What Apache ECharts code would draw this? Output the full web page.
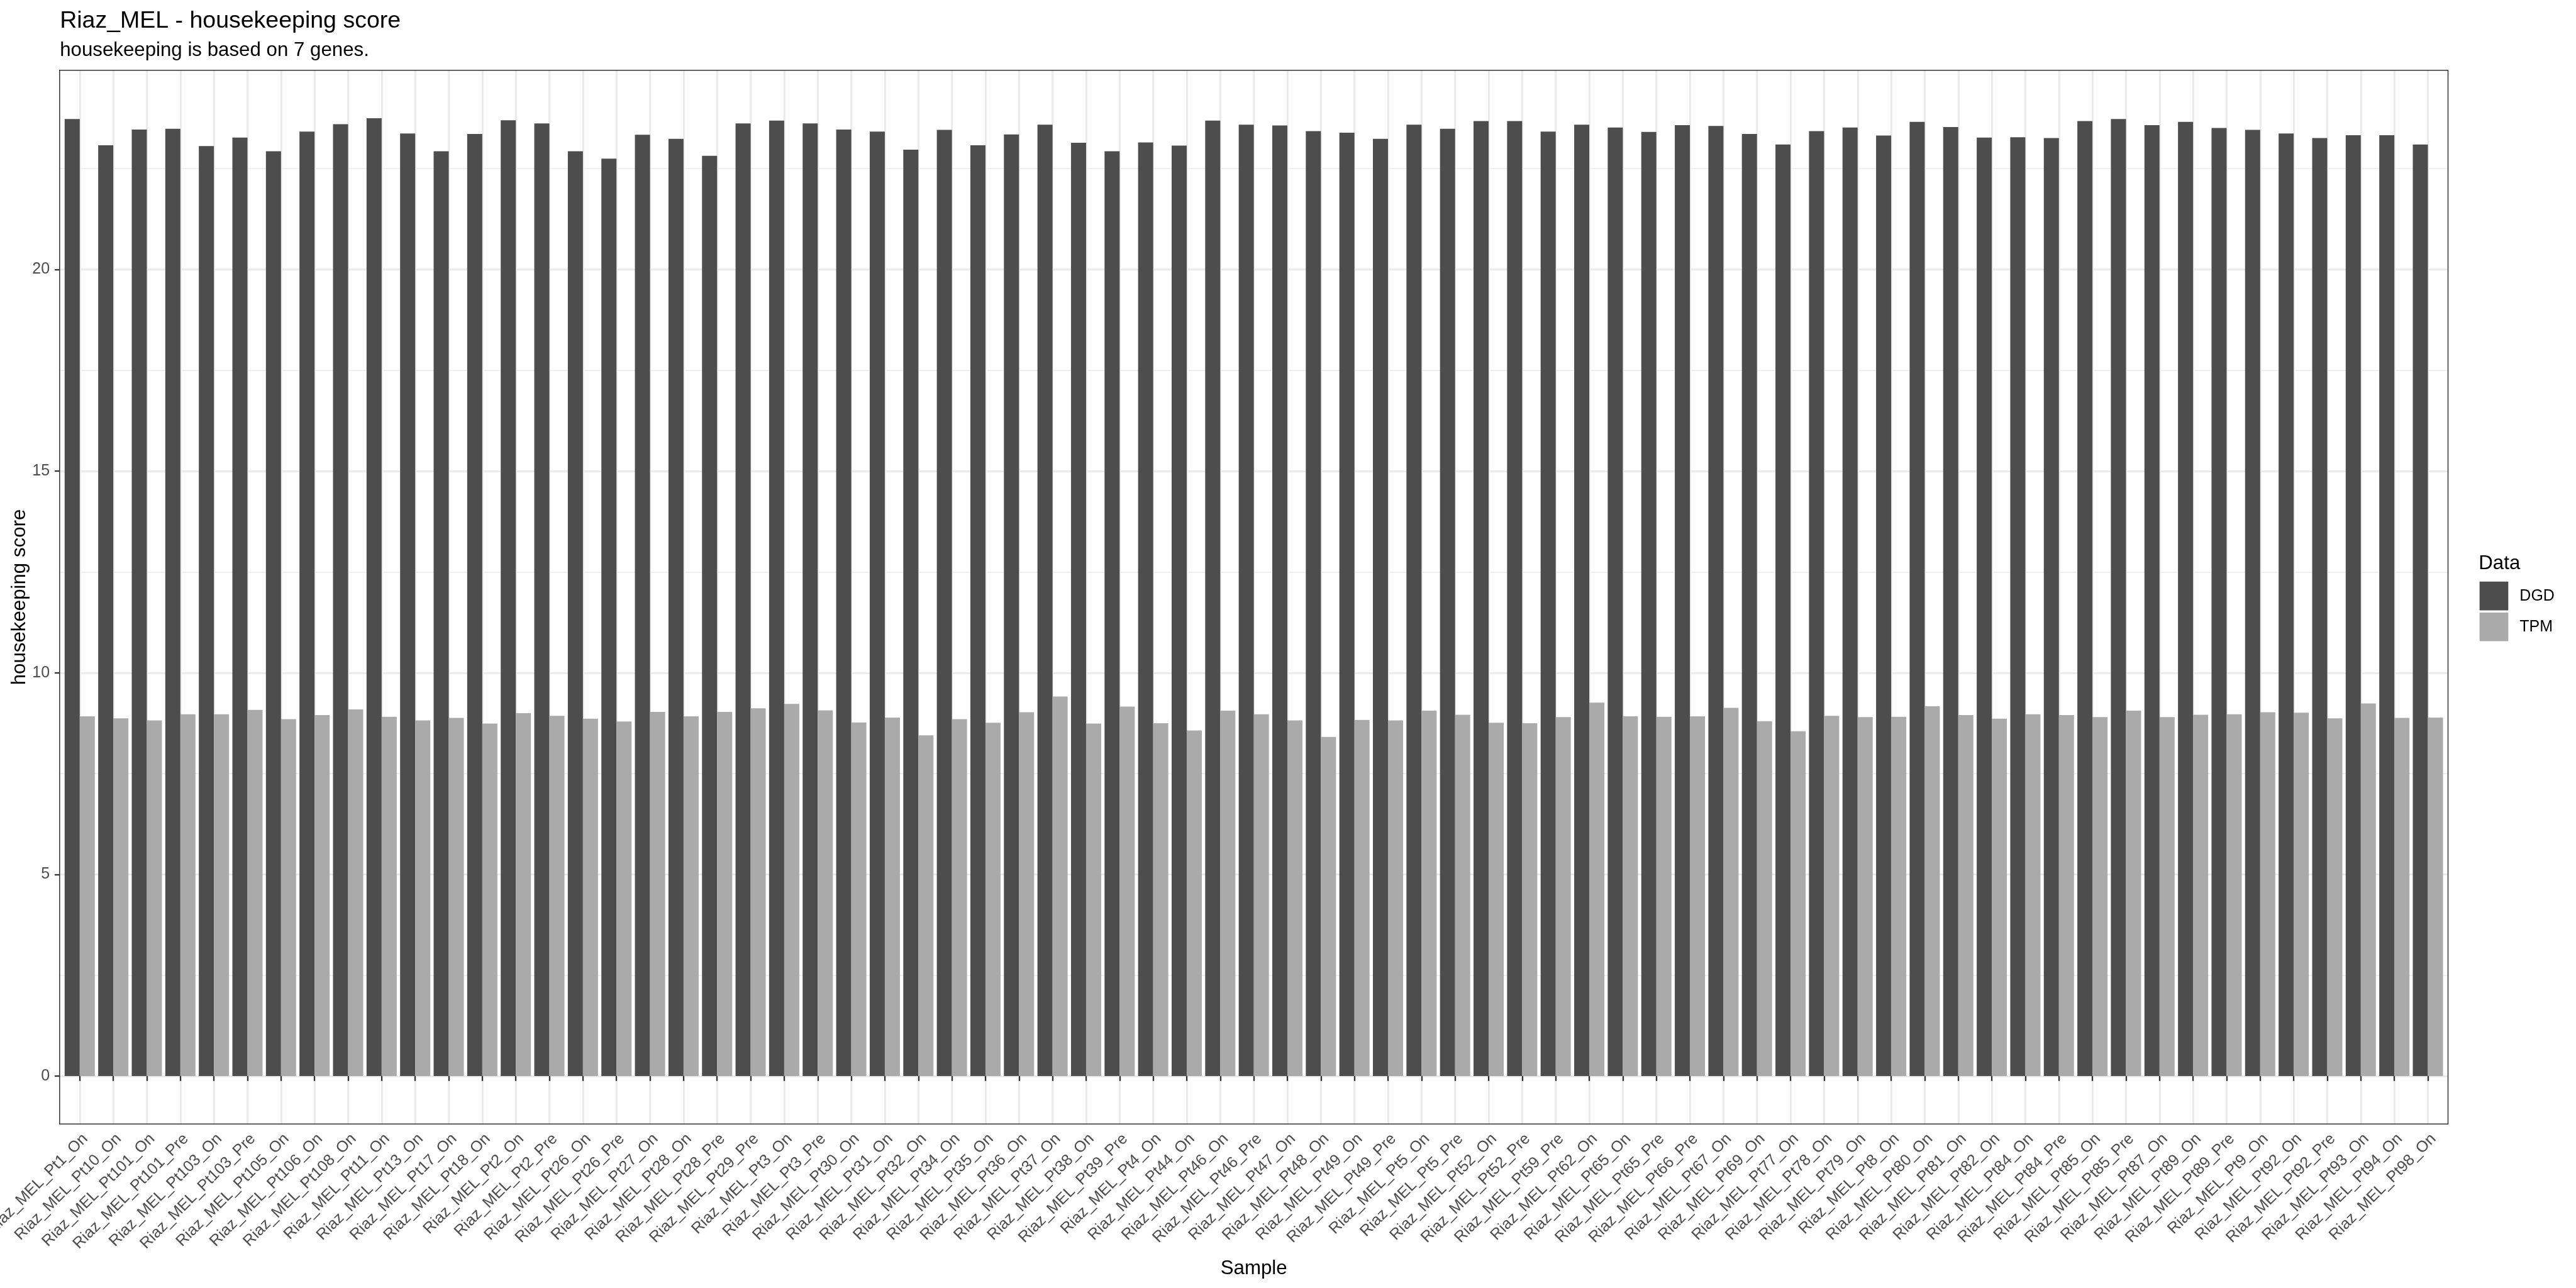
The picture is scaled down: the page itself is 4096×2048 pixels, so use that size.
<!DOCTYPE html>
<html>
<head>
<meta charset="utf-8">
<script src="https://cdn.jsdelivr.net/npm/echarts@6/dist/echarts.min.js"></script>
<style>
html, body { margin: 0; padding: 0; background: #ffffff; }
#chart { width: 4096px; height: 2048px; }
</style>
</head>
<body>
<div id="chart"></div>
<script>
// ---------------- data ----------------
const samples = [
  'Riaz_MEL_Pt1_On','Riaz_MEL_Pt10_On','Riaz_MEL_Pt101_On','Riaz_MEL_Pt101_Pre','Riaz_MEL_Pt103_On',
  'Riaz_MEL_Pt103_Pre','Riaz_MEL_Pt105_On','Riaz_MEL_Pt106_On','Riaz_MEL_Pt108_On','Riaz_MEL_Pt11_On',
  'Riaz_MEL_Pt13_On','Riaz_MEL_Pt17_On','Riaz_MEL_Pt18_On','Riaz_MEL_Pt2_On','Riaz_MEL_Pt2_Pre',
  'Riaz_MEL_Pt26_On','Riaz_MEL_Pt26_Pre','Riaz_MEL_Pt27_On','Riaz_MEL_Pt28_On','Riaz_MEL_Pt28_Pre',
  'Riaz_MEL_Pt29_Pre','Riaz_MEL_Pt3_On','Riaz_MEL_Pt3_Pre','Riaz_MEL_Pt30_On','Riaz_MEL_Pt31_On',
  'Riaz_MEL_Pt32_On','Riaz_MEL_Pt34_On','Riaz_MEL_Pt35_On','Riaz_MEL_Pt36_On','Riaz_MEL_Pt37_On',
  'Riaz_MEL_Pt38_On','Riaz_MEL_Pt39_Pre','Riaz_MEL_Pt4_On','Riaz_MEL_Pt44_On','Riaz_MEL_Pt46_On',
  'Riaz_MEL_Pt46_Pre','Riaz_MEL_Pt47_On','Riaz_MEL_Pt48_On','Riaz_MEL_Pt49_On','Riaz_MEL_Pt49_Pre',
  'Riaz_MEL_Pt5_On','Riaz_MEL_Pt5_Pre','Riaz_MEL_Pt52_On','Riaz_MEL_Pt52_Pre','Riaz_MEL_Pt59_Pre',
  'Riaz_MEL_Pt62_On','Riaz_MEL_Pt65_On','Riaz_MEL_Pt65_Pre','Riaz_MEL_Pt66_Pre','Riaz_MEL_Pt67_On',
  'Riaz_MEL_Pt69_On','Riaz_MEL_Pt77_On','Riaz_MEL_Pt78_On','Riaz_MEL_Pt79_On','Riaz_MEL_Pt8_On',
  'Riaz_MEL_Pt80_On','Riaz_MEL_Pt81_On','Riaz_MEL_Pt82_On','Riaz_MEL_Pt84_On','Riaz_MEL_Pt84_Pre',
  'Riaz_MEL_Pt85_On','Riaz_MEL_Pt85_Pre','Riaz_MEL_Pt87_On','Riaz_MEL_Pt89_On','Riaz_MEL_Pt89_Pre',
  'Riaz_MEL_Pt9_On','Riaz_MEL_Pt92_On','Riaz_MEL_Pt92_Pre','Riaz_MEL_Pt93_On','Riaz_MEL_Pt94_On',
  'Riaz_MEL_Pt98_On'
];

const dgdScore = [
  23.73, 23.08, 23.47, 23.49, 23.06, 23.27, 22.93, 23.42, 23.60, 23.75,
  23.37, 22.93, 23.36, 23.70, 23.62, 22.93, 22.75, 23.34, 23.24, 22.82,
  23.62, 23.69, 23.62, 23.47, 23.42, 22.97, 23.46, 23.08, 23.35, 23.59,
  23.14, 22.93, 23.15, 23.07, 23.69, 23.59, 23.57, 23.43, 23.39, 23.24,
  23.59, 23.49, 23.68, 23.68, 23.42, 23.59, 23.52, 23.41, 23.58, 23.56,
  23.36, 23.10, 23.43, 23.52, 23.32, 23.66, 23.53, 23.27, 23.28, 23.26,
  23.68, 23.73, 23.58, 23.66, 23.51, 23.46, 23.37, 23.26, 23.33, 23.33,
  23.10
];

const tpmScore = [
  8.92, 8.87, 8.82, 8.97, 8.97, 9.08, 8.85, 8.95, 9.09, 8.91,
  8.82, 8.88, 8.74, 9.00, 8.93, 8.86, 8.79, 9.03, 8.92, 9.03,
  9.12, 9.23, 9.07, 8.77, 8.89, 8.45, 8.85, 8.76, 9.02, 9.41,
  8.74, 9.16, 8.75, 8.57, 9.06, 8.97, 8.82, 8.41, 8.83, 8.82,
  9.06, 8.96, 8.76, 8.75, 8.90, 9.26, 8.92, 8.91, 8.92, 9.13,
  8.80, 8.55, 8.93, 8.90, 8.91, 9.17, 8.95, 8.86, 8.97, 8.95,
  8.90, 9.06, 8.90, 8.96, 8.97, 9.02, 9.01, 8.87, 9.24, 8.88,
  8.89
];

const seriesNames = ['DGD', 'TPM'];
const majorTickStep = 5;
const majorTickMax = 20;
const minorTickStep = 2.5;
const minorTickMax = 22.5;

const titleText = 'Riaz_MEL - housekeeping score';
const subtitleText = 'housekeeping is based on 7 genes.';
const xTitle = 'Sample';
const yTitle = 'housekeeping score';
const legendTitle = 'Data';

// ---------------- layout ----------------
const S = 0.682;
const FONT = 'Liberation Sans';
const PT = 300 / 72 * S;            // px per point at output scale
const panel = { left: 139 * S, top: 164 * S, right: 5707.5 * S, bottom: 2620.5 * S };
const pw = panel.right - panel.left;
const ph = panel.bottom - panel.top;
const n = samples.length;
const unit = pw / (n - 1 + 1.2);     // ggplot discrete expansion 0.6 each side

const dataMax = Math.max(...dgdScore, ...tpmScore);
const yHi = dataMax * 1.05;
const yLo = -dataMax * 0.05;
const yPx = v => panel.top + (yHi - v) / (yHi - yLo) * ph;

const gridCol = '#EBEBEB';
const inkCol = '#333333';

const hiddenParts = {
  axisLine: { show: false }, axisTick: { show: false },
  axisLabel: { show: false }, splitLine: { show: false }
};

const option = {
  backgroundColor: '#ffffff',
  animation: false,
  textStyle: { fontFamily: FONT },
  title: [
    { text: titleText, left: 139.5 * S, top: 15, padding: 0,
      textStyle: { fontSize: 13.2 * PT, lineHeight: 13.2 * PT, color: '#000', fontWeight: 'normal', fontFamily: FONT } },
    { text: subtitleText, left: 139.5 * S, top: 65, padding: 0,
      textStyle: { fontSize: 11 * PT, lineHeight: 11 * PT, color: '#000', fontWeight: 'normal', fontFamily: FONT } },
    { text: legendTitle, left: 5779 * S, top: 881, padding: 0,
      textStyle: { fontSize: 11 * PT, lineHeight: 11 * PT, color: '#000', fontWeight: 'normal', fontFamily: FONT } }
  ],
  legend: {
    orient: 'vertical',
    left: 5781 * S, top: 1356 * S,
    padding: 0,
    itemWidth: 67 * S, itemHeight: 67 * S, itemGap: 5 * S,
    icon: 'rect',
    selectedMode: false,
    data: seriesNames,
    textStyle: { fontSize: 8.8 * PT, color: '#000', fontFamily: FONT, padding: [0, 0, 0, 13] }
  },
  grid: [
    // 0: panel border + axis titles
    { left: panel.left, top: panel.top, width: pw, height: ph, show: true, z: 10,
      backgroundColor: 'transparent', borderColor: inkCol, borderWidth: 1.5,
      containLabel: false, outerBoundsMode: 'none' },
    // 1: minor horizontal grid lines
    { left: panel.left, top: yPx(minorTickMax), width: pw, height: yPx(0) - yPx(minorTickMax),
      show: false, containLabel: false, outerBoundsMode: 'none' },
    // 2: major horizontal grid lines + y tick labels
    { left: panel.left, top: yPx(majorTickMax), width: pw, height: yPx(0) - yPx(majorTickMax),
      show: false, containLabel: false, outerBoundsMode: 'none' },
    // 3: bars, category ticks/labels, vertical grid lines
    { left: panel.left + 0.6 * unit, top: panel.top, width: (n - 1) * unit, height: ph,
      show: false, containLabel: false, outerBoundsMode: 'none' }
  ],
  xAxis: [
    { gridIndex: 0, type: 'value', min: 0, max: 1, ...hiddenParts,
      name: xTitle, nameLocation: 'middle', nameGap: 230,
      nameTextStyle: { fontSize: 11 * PT, color: '#000', fontFamily: FONT, align: 'center', verticalAlign: 'middle' } },
    { gridIndex: 1, type: 'value', min: 0, max: 1, show: false },
    { gridIndex: 2, type: 'value', min: 0, max: 1, show: false },
    { gridIndex: 3, type: 'category', data: samples, boundaryGap: false,
      axisLine: { show: false },
      axisTick: { show: true, interval: 0, length: 11.5 * S, lineStyle: { color: inkCol, width: 2.3 } },
      splitLine: { show: true, interval: 0, lineStyle: { color: gridCol, width: 2.9 } },
      axisLabel: { show: true, interval: 0, rotate: 45, align: 'right', verticalAlign: 'top',
        margin: 11, hideOverlap: false,
        fontSize: 8.8 * PT, color: '#4D4D4D', fontFamily: FONT } }
  ],
  yAxis: [
    { gridIndex: 0, type: 'value', min: 0, max: 1, ...hiddenParts,
      name: yTitle, nameLocation: 'middle', nameGap: 63, nameRotate: 90,
      nameTextStyle: { fontSize: 11 * PT, color: '#000', fontFamily: FONT, align: 'center', verticalAlign: 'middle' } },
    { gridIndex: 1, type: 'value', min: 0, max: minorTickMax, interval: minorTickStep,
      axisLine: { show: false }, axisTick: { show: false }, axisLabel: { show: false },
      splitLine: { show: true, lineStyle: { color: gridCol, width: 1.5 } } },
    { gridIndex: 2, type: 'value', min: 0, max: majorTickMax, interval: majorTickStep,
      axisLine: { show: false },
      axisTick: { show: true, length: 11.5 * S, lineStyle: { color: inkCol, width: 2.3 } },
      axisLabel: { show: true, margin: 23 * S, fontSize: 8.8 * PT, color: '#4D4D4D', fontFamily: FONT },
      splitLine: { show: true, lineStyle: { color: gridCol, width: 2.9 } } },
    { gridIndex: 3, type: 'value', min: yLo, max: yHi, show: false }
  ],
  series: [
    { name: seriesNames[0], type: 'bar', xAxisIndex: 3, yAxisIndex: 3,
      data: dgdScore, barGap: '0%', barCategoryGap: '10%',
      itemStyle: { color: '#4D4D4D' } },
    { name: seriesNames[1], type: 'bar', xAxisIndex: 3, yAxisIndex: 3,
      data: tpmScore, barGap: '0%', barCategoryGap: '10%',
      itemStyle: { color: '#AAAAAA' } }
  ]
};

const chart = echarts.init(document.getElementById('chart'), null, { renderer: 'canvas' });
chart.setOption(option);
</script>
</body>
</html>
